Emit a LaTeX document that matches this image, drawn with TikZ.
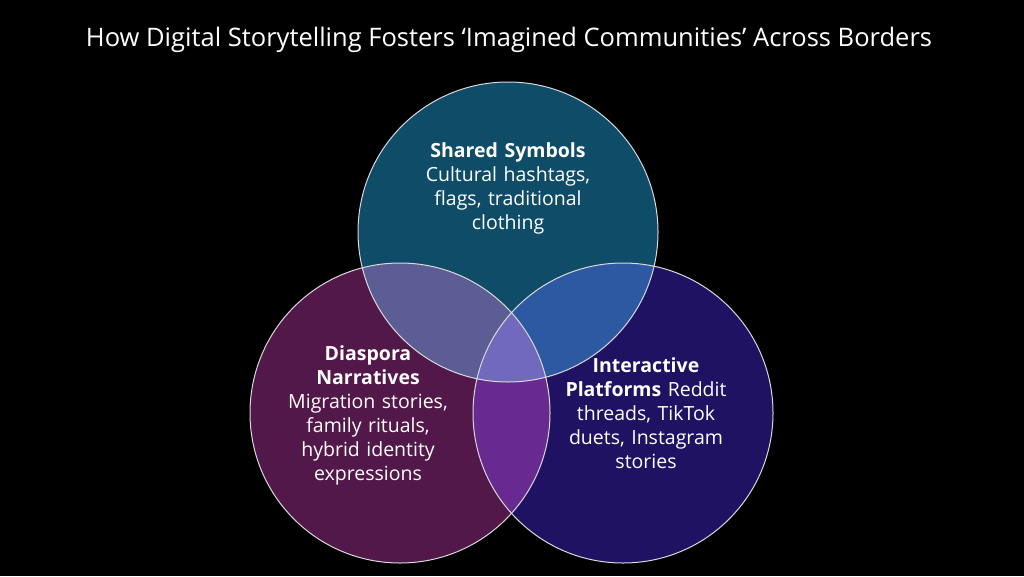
\documentclass[tikz,border=0pt]{standalone}
\usepackage{fontspec}
\setmainfont{Open Sans}
\definecolor{cteal}{RGB}{14,76,104}
\definecolor{cplum}{RGB}{82,24,74}
\definecolor{cindigo}{RGB}{32,18,98}
\begin{document}
\begin{tikzpicture}[x=1pt,y=-1pt,
  lbl/.style={text=white,align=center,font=\fontsize{19.5}{24}\selectfont}]
\fill[black] (0,0) rectangle (1024,576);
\useasboundingbox (0,0) rectangle (1024,576);
\node[text=white,font=\fontsize{25.5}{30}\selectfont] (title) at (509,40) {How Digital Storytelling Fosters ‘Imagined Communities’ Across Borders};
\begin{scope}[blend group=screen]
\fill[cteal] (508,232) circle (150);
\fill[cplum] (400,413) circle (150);
\fill[cindigo] (623,413) circle (150);
\end{scope}
\draw[white!85!black,line width=1pt] (508,232) circle (150) (400,413) circle (150) (623,413) circle (150);
\node[lbl,text width=200pt] (ss) at (508,188) {\textbf{Shared Symbols}\\Cultural hashtags,\\flags, traditional\\clothing};
\node[lbl,text width=180pt] (dn) at (368,415) {\textbf{Diaspora}\\\textbf{Narratives}\\Migration stories,\\family rituals,\\hybrid identity\\expressions};
\node[lbl,text width=190pt] (ip) at (646,413) {\textbf{Interactive}\\\textbf{Platforms} Reddit\\threads, TikTok\\duets, Instagram\\stories};
\end{tikzpicture}
\end{document}
